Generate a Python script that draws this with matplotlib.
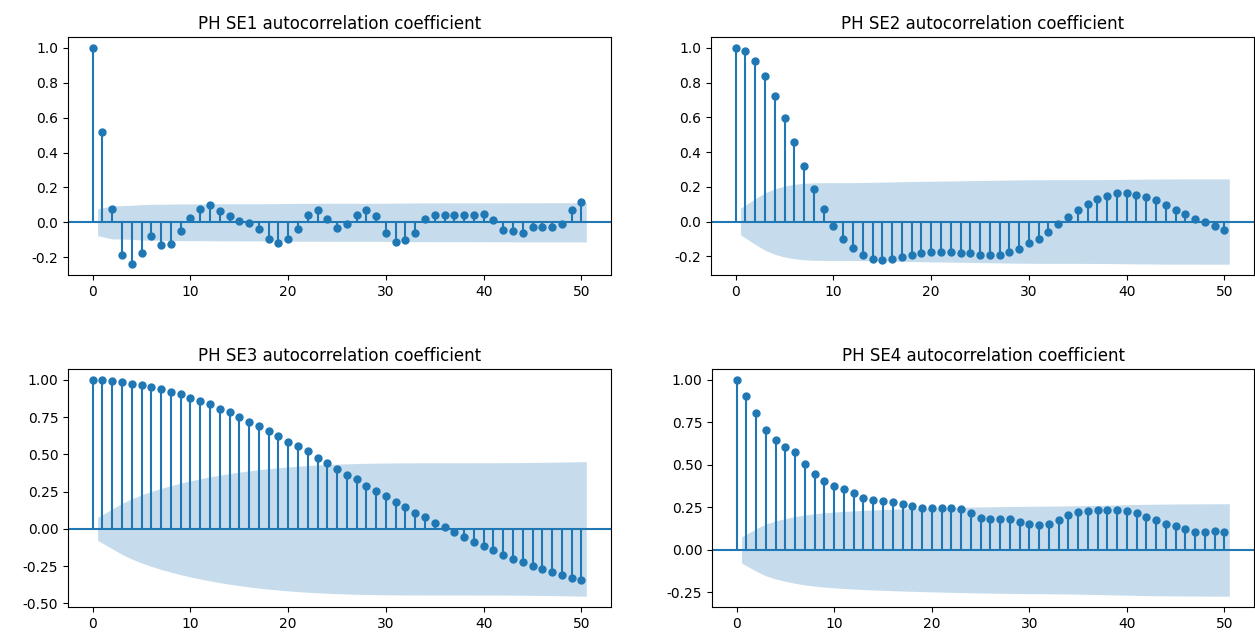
import numpy as np
import matplotlib
matplotlib.use("Agg")
import matplotlib.pyplot as plt
from matplotlib.ticker import MultipleLocator, FormatStrFormatter

titles = ["PH SE1 autocorrelation coefficient", "PH SE2 autocorrelation coefficient",
          "PH SE3 autocorrelation coefficient", "PH SE4 autocorrelation coefficient"]

lags = list(range(51))
nobs = 650  # estimated series length (sets the confidence band width)

acf_se1 = [1.0, 0.518, 0.079, -0.19, -0.24, -0.178, -0.077, -0.13, -0.123, -0.05,
           0.025, 0.079, 0.098, 0.067, 0.035, 0.006, -0.006, -0.036, -0.098, -0.117,
           -0.098, -0.036, 0.042, 0.073, 0.02, -0.035, -0.01, 0.044, 0.069, 0.035,
           -0.06, -0.115, -0.104, -0.06, 0.017, 0.04, 0.04, 0.04, 0.04, 0.04,
           0.05, 0.012, -0.042, -0.05, -0.063, -0.029, -0.029, -0.029, -0.008, 0.073,
           0.115]
acf_se2 = [1.0, 0.98, 0.924, 0.835, 0.725, 0.595, 0.457, 0.32, 0.19, 0.07,
           -0.023, -0.10, -0.155, -0.19, -0.213, -0.221, -0.213, -0.205, -0.19, -0.182,
           -0.174, -0.174, -0.174, -0.182, -0.182, -0.192, -0.19, -0.192, -0.174, -0.157,
           -0.124, -0.099, -0.058, -0.014, 0.025, 0.068, 0.10, 0.128, 0.149, 0.163,
           0.163, 0.155, 0.143, 0.122, 0.095, 0.066, 0.045, 0.016, -0.004, -0.023,
           -0.047]
acf_se3 = [1.0, 1.0, 0.993, 0.984, 0.975, 0.966, 0.953, 0.937, 0.921, 0.903,
           0.878, 0.856, 0.835, 0.806, 0.783, 0.752, 0.72, 0.688, 0.657, 0.625,
           0.585, 0.553, 0.52, 0.478, 0.439, 0.404, 0.363, 0.332, 0.291, 0.253,
           0.221, 0.181, 0.149, 0.106, 0.077, 0.041, 0.011, -0.023, -0.054, -0.086,
           -0.117, -0.142, -0.174, -0.199, -0.223, -0.246, -0.271, -0.287, -0.309, -0.327,
           -0.345]
acf_se4 = [1.0, 0.903, 0.805, 0.706, 0.649, 0.606, 0.576, 0.505, 0.448, 0.408,
           0.373, 0.357, 0.337, 0.308, 0.294, 0.288, 0.28, 0.272, 0.26, 0.247,
           0.247, 0.247, 0.247, 0.239, 0.217, 0.185, 0.181, 0.181, 0.181, 0.164,
           0.152, 0.144, 0.152, 0.174, 0.203, 0.223, 0.231, 0.237, 0.237, 0.237,
           0.231, 0.215, 0.193, 0.174, 0.154, 0.14, 0.122, 0.108, 0.103, 0.11,
           0.108]

series = [acf_se1, acf_se2, acf_se3, acf_se4]
ytick_steps = [0.2, 0.2, 0.25, 0.25]
ytick_fmts = ["%.1f", "%.1f", "%.2f", "%.2f"]

W, H = 1255, 637
fig = plt.figure(figsize=(W / 100, H / 100), dpi=100)
boxes = [(68, 37, 611, 275), (711, 37, 1254, 275),
         (68, 369, 611, 607), (712, 369, 1254, 607)]


def bartlett_band(acf, n):
    acf = np.asarray(acf)
    var = np.ones(len(acf)) / n
    var[0] = 0
    var[1] = 1.0 / n
    var[2:] *= 1 + 2 * np.cumsum(acf[1:-1] ** 2)
    return 1.96 * np.sqrt(var)


for (l, t, r, b), acf, title, step, fmt in zip(boxes, series, titles, ytick_steps, ytick_fmts):
    ax = fig.add_axes([l / W, (H - b) / H, (r - l) / W, (b - t) / H])
    x = np.array(lags, dtype=float)
    y = np.array(acf)
    ax.vlines(x, [0], y, color="C0", lw=1.5)
    ax.axhline(0, color="C0", lw=1.5)
    ax.margins(0.05)
    ax.plot(x, y, marker="o", markersize=5, linestyle="None", color="C0")
    band = bartlett_band(y, nobs)
    xb = x[1:].copy()
    xb[0] -= 0.5
    xb[-1] += 0.5
    ax.fill_between(xb, -band[1:], band[1:], alpha=0.25, color="C0", lw=0)
    ax.set_title(title, fontsize=12)
    ax.yaxis.set_major_locator(MultipleLocator(step))
    ax.yaxis.set_major_formatter(FormatStrFormatter(fmt))
    ax.tick_params(labelsize=10)

fig.savefig("out.png", dpi=100)
